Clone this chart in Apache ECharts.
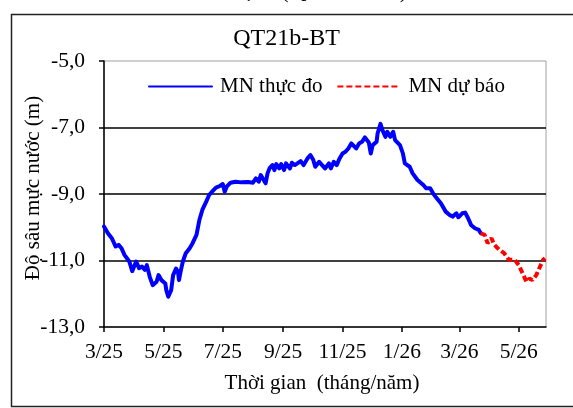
<!DOCTYPE html>
<html>
<head>
<meta charset="utf-8">
<script src="https://cdn.jsdelivr.net/npm/echarts@6/dist/echarts.min.js"></script>
<style>
html,body{margin:0;padding:0;background:#fff;}
#chart{width:573px;height:408px;}
</style>
</head>
<body>
<div id="chart"></div>
<script>
// ---- data ----
const observedDates = [
'2025-03-01','2025-03-05','2025-03-09','2025-03-11','2025-03-13','2025-03-16','2025-03-19','2025-03-22','2025-03-27','2025-03-30',
'2025-04-03','2025-04-06','2025-04-09','2025-04-12','2025-04-14','2025-04-17','2025-04-20','2025-04-24','2025-04-26','2025-04-29',
'2025-05-03','2025-05-04','2025-05-06','2025-05-09','2025-05-11','2025-05-14','2025-05-16','2025-05-17','2025-05-19','2025-05-21',
'2025-05-24','2025-05-28','2025-05-31','2025-06-04','2025-06-07','2025-06-10','2025-06-14','2025-06-17','2025-06-21','2025-06-24',
'2025-06-28','2025-07-01','2025-07-03','2025-07-05','2025-07-09','2025-07-14','2025-07-20','2025-07-27','2025-08-01','2025-08-04',
'2025-08-07','2025-08-09','2025-08-12','2025-08-14','2025-08-16','2025-08-18','2025-08-21','2025-08-23','2025-08-25','2025-08-28',
'2025-08-30','2025-09-02','2025-09-04','2025-09-08','2025-09-10','2025-09-13','2025-09-15','2025-09-19','2025-09-22','2025-09-26',
'2025-09-29','2025-10-02','2025-10-04','2025-10-08','2025-10-11','2025-10-14','2025-10-18','2025-10-20','2025-10-23','2025-10-26',
'2025-10-29','2025-11-01','2025-11-04','2025-11-07','2025-11-10','2025-11-12','2025-11-15','2025-11-18','2025-11-21','2025-11-24',
'2025-11-28','2025-11-30','2025-12-02','2025-12-06','2025-12-07','2025-12-10','2025-12-12','2025-12-15','2025-12-17','2025-12-20',
'2025-12-23','2025-12-25','2025-12-30','2026-01-02','2026-01-04','2026-01-09','2026-01-12','2026-01-17','2026-01-23','2026-01-26',
'2026-01-30','2026-02-02','2026-02-05','2026-02-10','2026-02-15','2026-02-19','2026-02-22','2026-02-26','2026-02-28','2026-03-04',
'2026-03-07','2026-03-10','2026-03-13','2026-03-17','2026-03-21','2026-03-23'
];
const observedValues = [
-9.98,-10.18,-10.33,-10.28,-10.58,-10.53,-10.63,-10.83,-11.03,-11.32,
-11.03,-11.23,-11.18,-11.28,-11.14,-11.49,-11.74,-11.64,-11.44,-11.59,
-11.69,-11.89,-12.09,-11.89,-11.44,-11.24,-11.34,-11.59,-11.29,-11.03,
-10.78,-10.63,-10.48,-10.23,-9.78,-9.48,-9.23,-9.03,-8.90,-8.81,
-8.76,-8.70,-8.93,-8.78,-8.66,-8.63,-8.65,-8.64,-8.66,-8.53,
-8.63,-8.43,-8.58,-8.68,-8.38,-8.23,-8.13,-8.28,-8.10,-8.23,
-8.10,-8.28,-8.08,-8.23,-8.06,-8.13,-8.08,-8.01,-8.13,-7.93,
-7.83,-7.98,-8.18,-8.03,-8.13,-8.23,-8.08,-8.23,-8.03,-8.13,
-7.93,-7.78,-7.73,-7.63,-7.48,-7.53,-7.63,-7.48,-7.43,-7.30,
-7.45,-7.78,-7.53,-7.43,-7.18,-6.89,-7.08,-7.28,-7.13,-7.28,
-7.13,-7.38,-7.53,-7.78,-8.08,-8.18,-8.38,-8.58,-8.73,-8.83,
-8.83,-8.98,-9.10,-9.28,-9.53,-9.63,-9.68,-9.58,-9.70,-9.58,
-9.56,-9.73,-9.93,-10.03,-10.08,-10.18
];
const forecastDates = [
'2026-03-23','2026-03-27','2026-03-30','2026-04-03','2026-04-06','2026-04-11','2026-04-16','2026-04-21','2026-04-27',
'2026-05-01','2026-05-05','2026-05-09','2026-05-12','2026-05-15','2026-05-19','2026-05-22','2026-05-26','2026-05-28'
];
const forecastValues = [
-10.18,-10.23,-10.48,-10.33,-10.53,-10.68,-10.78,-10.98,-10.98,
-11.14,-11.39,-11.64,-11.54,-11.59,-11.44,-11.24,-10.98,-10.93
];
const xTickDates = ['2025-03-01','2025-05-01','2025-07-01','2025-09-01','2025-11-01','2026-01-01','2026-03-01','2026-05-01'];
const xMinDate = '2025-03-01';
const xMaxDate = '2026-05-29';
const gridValues = [-7, -9, -11];
const seriesNames = ['MN thực đo', 'MN dự báo'];
const chartTitle = 'QT21b-BT';
const topCaption = 'Hình 2. Trạm (QT21b-BT)';
const xAxisTitle = 'Thời gian  (tháng/năm)';
const yAxisTitle = 'Độ sâu mực nước (m)';

// ---- build ----
const P = s => { const [y, m, d] = s.split('-').map(Number); return Date.UTC(y, m - 1, d); };
const FONT = '"Liberation Serif", "Times New Roman", serif';
const pair = (ds, vs) => ds.map((d, i) => [P(d), vs[i]]);
const tickVals = xTickDates.map(P);

const chart = echarts.init(document.getElementById('chart'), null, {renderer: 'canvas'});
chart.setOption({
  animation: false,
  backgroundColor: '#fff',
  title: {
    text: chartTitle, left: 'center', top: 22,
    textStyle: {fontFamily: FONT, fontSize: 24, fontWeight: 'normal', color: '#000'}
  },
  graphic: [
    {type: 'rect', z: -1, shape: {x: 11.5, y: 14.5, width: 620, height: 392}, style: {fill: 'none', stroke: '#222', lineWidth: 1.5}},
    {type: 'text', x: 408, y: 3, style: {text: topCaption, align: 'right', verticalAlign: 'bottom', font: '25px ' + FONT, fill: '#000'}}
  ],
  legend: {
    left: 143, top: 71, itemWidth: 63, itemHeight: 14, itemGap: 14,
    textStyle: {fontFamily: FONT, fontSize: 21, color: '#000', padding: [0, 0, 0, 3]},
    itemStyle: {color: 'rgba(0,0,0,0)', borderColor: 'rgba(0,0,0,0)', borderWidth: 0},
    data: seriesNames
  },
  grid: {left: 104, right: 27, top: 61, bottom: 81, show: true, borderColor: '#a0a0a0', borderWidth: 1, backgroundColor: 'transparent'},
  xAxis: {
    type: 'value', min: P(xMinDate), max: P(xMaxDate),
    name: xAxisTitle, nameLocation: 'middle', nameGap: 46, nameMoveOverlap: false,
    nameTextStyle: {fontFamily: FONT, fontSize: 21, color: '#000', padding: [0, 6, 0, 0]},
    axisLine: {show: true, onZero: false, lineStyle: {color: '#000', width: 1.5}},
    axisTick: {show: true, inside: false, length: 5, lineStyle: {color: '#000', width: 1.5}, customValues: tickVals},
    axisLabel: {
      fontFamily: FONT, fontSize: 21.5, color: '#000', margin: 14,
      customValues: tickVals,
      formatter: v => { const d = new Date(v); return (d.getUTCMonth() + 1) + '/' + String(d.getUTCFullYear()).slice(2); }
    },
    splitLine: {show: false}
  },
  yAxis: {
    type: 'value', min: -13, max: -5, interval: 2,
    name: yAxisTitle, nameLocation: 'middle', nameGap: 60, nameRotate: 90, nameMoveOverlap: false,
    nameTextStyle: {fontFamily: FONT, fontSize: 21, color: '#000', padding: [0, 0, 0, 12]},
    axisLine: {show: true, onZero: false, lineStyle: {color: '#000', width: 1.5}},
    axisTick: {show: true, inside: false, length: 5, lineStyle: {color: '#000', width: 1.5}},
    axisLabel: {fontFamily: FONT, fontSize: 21.5, color: '#000', margin: 19,
      formatter: v => v.toFixed(1).replace('.', ',')},
    splitLine: {show: false}
  },
  series: [
    {
      name: seriesNames[0], type: 'line', data: pair(observedDates, observedValues),
      showSymbol: false, symbol: 'none', smooth: false, z: 3,
      lineStyle: {color: '#0000ff', width: 4, join: 'round', cap: 'round'},
      itemStyle: {color: '#0000ff'},
      markLine: {
        silent: true, symbol: 'none', z: 1,
        lineStyle: {color: '#000', width: 1.5, type: 'solid'},
        label: {show: false},
        data: gridValues.map(v => ({yAxis: v}))
      }
    },
    {
      name: seriesNames[1], type: 'line', data: pair(forecastDates, forecastValues),
      showSymbol: false, symbol: 'none', smooth: false, z: 4,
      lineStyle: {color: '#ff0000', width: 4, type: [6, 3]},
      itemStyle: {color: '#ff0000'}
    }
  ]
});
</script>
</body>
</html>
